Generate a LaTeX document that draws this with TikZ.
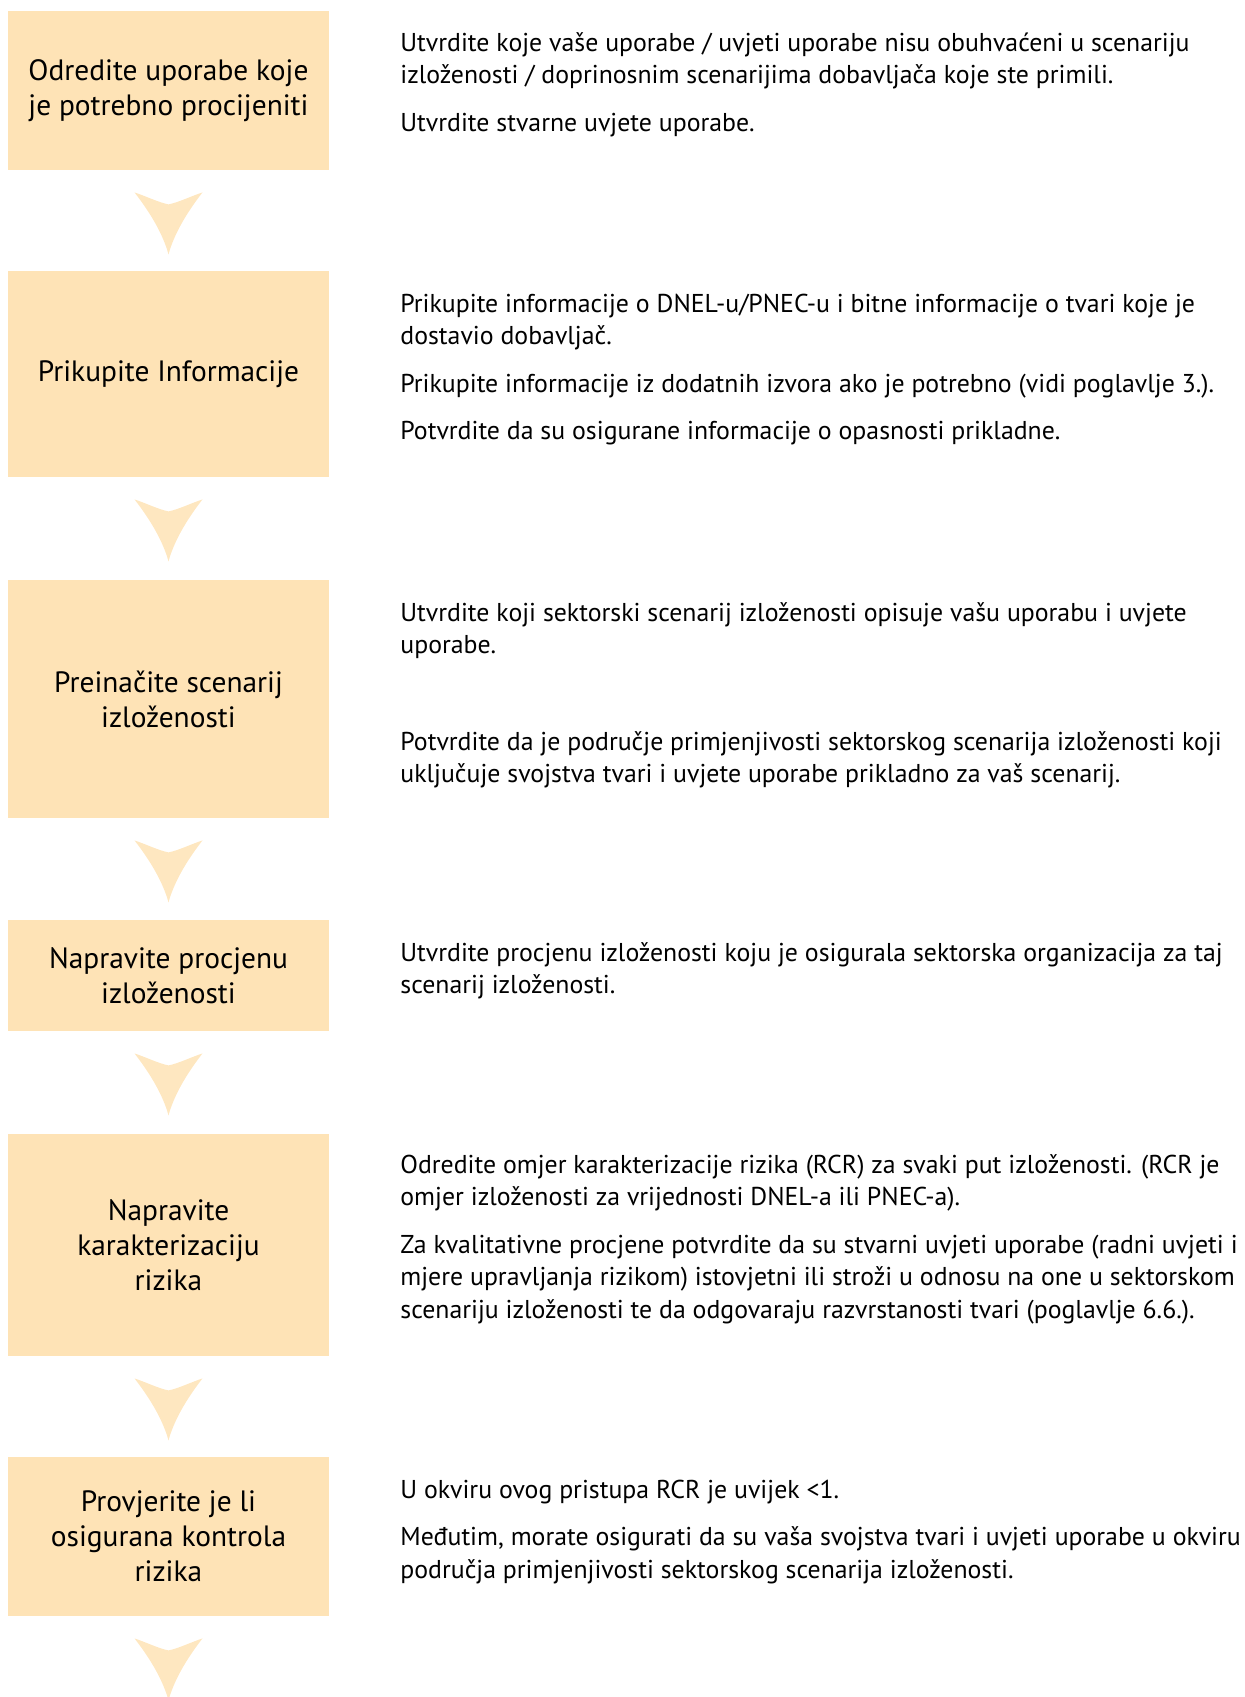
\documentclass[tikz,border=0pt]{standalone}
\usepackage{fontspec}
\setmainfont{PT Sans}
\usetikzlibrary{positioning,calc}
\definecolor{StepPeach}{HTML}{FEE3B6}
\definecolor{ArrowPeach}{HTML}{FEE7C0}
\tikzset{
    % Step box on the left
    stepbox/.style={
        fill=StepPeach,
        draw=none,
        minimum width=160.5pt,
        inner sep=0pt,
        align=center,
        font=\fontsize{14.7}{17.5}\selectfont
    },
    % Description text on the right
    notetext/.style={
        anchor=north west,
        inner sep=0pt,
        align=left,
        font=\fontsize{12.9}{16.25}\selectfont
    },
    % Chevron between two steps
    chevron/.style={
        fill=ArrowPeach,
        draw=none
    }
}

\begin{document}
\begin{tikzpicture}[x=0.5pt, y=-0.5pt]
    \useasboundingbox (0,0) rectangle (1244,1697);

    % steps
    \node[stepbox, minimum height=79.5pt] (uses) at (168.5,90.5) {Odredite uporabe koje\\je potrebno procijeniti};
    \node[stepbox, minimum height=103pt] (info) at (168.5,374) {Prikupite Informacije};
    \node[stepbox, minimum height=119pt] (modify) at (168.5,699) {Preinačite scenarij\\izloženosti};
    \node[stepbox, minimum height=55.5pt] (assess) at (168.5,975.5) {Napravite procjenu\\izloženosti};
    \node[stepbox, minimum height=111pt] (riskchar) at (168.5,1245) {Napravite\\karakterizaciju\\rizika};
    \node[stepbox, minimum height=79.5pt] (control) at (168.5,1536.5) {Provjerite je li\\osigurana kontrola\\rizika};

    % chevrons below each step
    \foreach \s in {uses,info,modify,assess,riskchar,control}
        \fill[chevron, shift={(\s.south)}] (-34,22) .. controls (-22,26) and (-10,32) .. (0,34)
            .. controls (10,32) and (22,26) .. (34,22)
            .. controls (20,40) and (6,62) .. (0,84)
            .. controls (-6,62) and (-20,40) .. (-34,22) -- cycle;

    % notes
    \node[notetext] (usesnote) at (400,28.25) {\strut Utvrdite koje vaše uporabe / uvjeti uporabe nisu obuhvaćeni u scenariju\\izloženosti / doprinosnim scenarijima dobavljača koje ste primili.\\[7.5pt]Utvrdite stvarne uvjete uporabe.};
    \node[notetext] (infonote) at (400,289.25) {\strut Prikupite informacije o DNEL-u/PNEC-u i bitne informacije o tvari koje je\\dostavio dobavljač.\\[7.5pt]Prikupite informacije iz dodatnih izvora ako je potrebno (vidi poglavlje 3.).\\[7.5pt]Potvrdite da su osigurane informacije o opasnosti prikladne.};
    \node[notetext] (modifynote) at (400,598.25) {\strut Utvrdite koji sektorski scenarij izloženosti opisuje vašu uporabu i uvjete\\uporabe.\\[32pt]Potvrdite da je područje primjenjivosti sektorskog scenarija izloženosti koji\\uključuje svojstva tvari i uvjete uporabe prikladno za vaš scenarij.};
    \node[notetext] (assessnote) at (400,938.25) {\strut Utvrdite procjenu izloženosti koju je osigurala sektorska organizacija za taj\\scenarij izloženosti.};
    \node[notetext] (riskcharnote) at (400,1150.25) {\strut Odredite omjer karakterizacije rizika (RCR) za svaki put izloženosti. (RCR je\\omjer izloženosti za vrijednosti DNEL-a ili PNEC-a).\\[7.5pt]Za kvalitativne procjene potvrdite da su stvarni uvjeti uporabe (radni uvjeti i\\mjere upravljanja rizikom) istovjetni ili stroži u odnosu na one u sektorskom\\scenariju izloženosti te da odgovaraju razvrstanosti tvari (poglavlje 6.6.).};
    \node[notetext] (controlnote) at (400,1475.25) {\strut U okviru ovog pristupa RCR je uvijek <1.\\[7.5pt]Međutim, morate osigurati da su vaša svojstva tvari i uvjeti uporabe u okviru\\područja primjenjivosti sektorskog scenarija izloženosti.};
\end{tikzpicture}
\end{document}
